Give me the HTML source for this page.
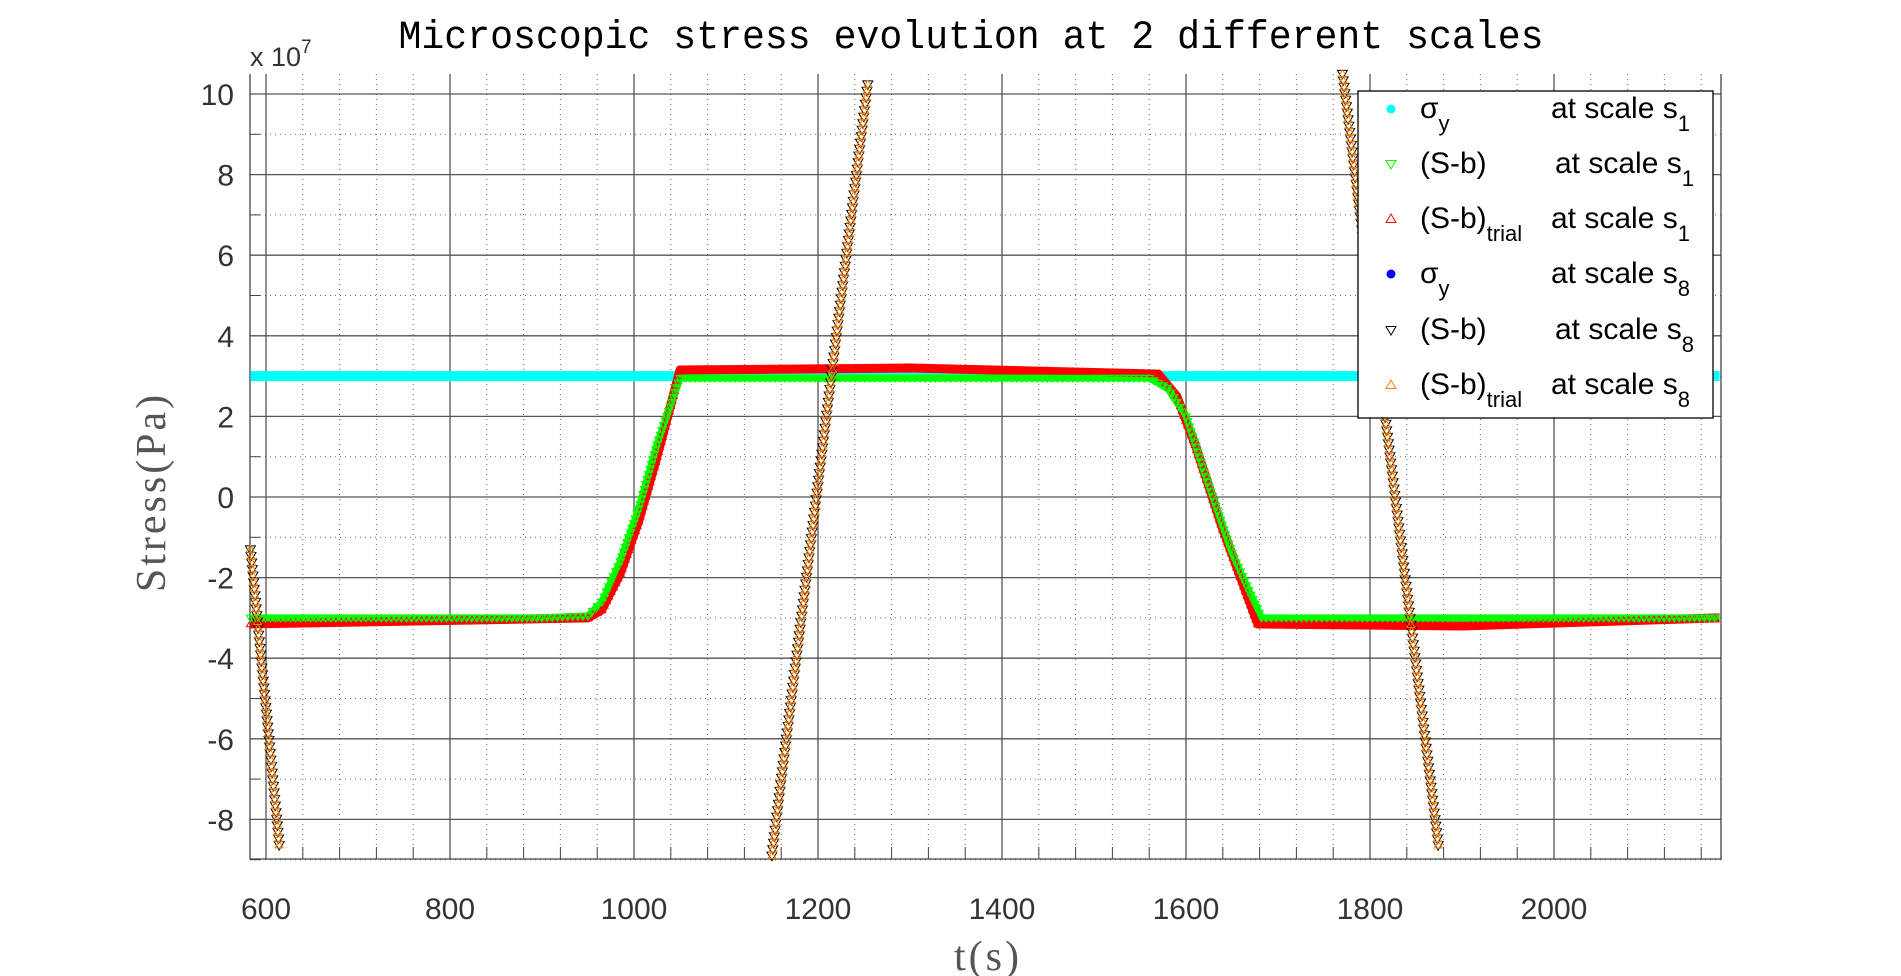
<!DOCTYPE html>
<html><head><meta charset="utf-8"><style>
html,body{margin:0;padding:0;background:#fff;}
svg{display:block;}
</style></head><body>
<svg id="chart" width="1901" height="976" viewBox="0 0 1901 976" xmlns="http://www.w3.org/2000/svg">
<text x="971" y="48" text-anchor="middle" font-family="Liberation Mono, monospace" font-size="40" textLength="1145" lengthAdjust="spacingAndGlyphs">Microscopic stress evolution at 2 different scales</text>
<g id="grid"></g>
<g id="axes"></g>
<g id="series"></g>
<text x="250" y="66" font-family="Liberation Sans, sans-serif" font-size="27" fill="#333">x 10<tspan dy="-13" font-size="19">7</tspan></text>
<text transform="translate(165,492) rotate(-90)" text-anchor="middle" font-family="Liberation Serif, serif" font-size="42" fill="#555" letter-spacing="3">Stress(Pa)</text>
<text x="988" y="970" text-anchor="middle" font-family="Liberation Serif, serif" font-size="42" fill="#555" letter-spacing="3">t(s)</text>
<g id="legend"></g>
</svg>
<script>
const xTicks=[600,800,1000,1200,1400,1600,1800,2000];
const yTicks=[-8,-6,-4,-2,0,2,4,6,8,10];
const sigmaT=[583,2180];
const sigmaV=[3,3];
const sb1T=[583,900,950,965,985,1005,1025,1050,1300,1560,1580,1600,1620,1650,1682,2180];
const sb1V=[-3,-3,-2.95,-2.6,-1.6,-0.3,1.3,2.95,2.95,2.95,2.7,2.0,0.6,-1.4,-3,-3];
const tr1T=[583,950,965,985,1005,1025,1050,1300,1570,1590,1610,1640,1678,1900,2180];
const tr1V=[-3.15,-3.0,-2.8,-1.9,-0.6,1.0,3.15,3.2,3.05,2.5,1.3,-0.8,-3.15,-3.2,-3.0];
const s8Seg1T=[583,615], s8Seg1V=[-1.3,-8.8];
const s8Seg2T=[1150,1255], s8Seg2V=[-8.9,10.4];
const s8Seg3T=[1770,1875], s8Seg3V=[10.5,-8.8];

const L=250,R=1721,T=74,B=859;
const x=t=>266+(t-600)*0.92;
const y=v=>497-v*40.3;
const NS='http://www.w3.org/2000/svg';
function mk(tag,attrs,parent){const e=document.createElementNS(NS,tag);for(const k in attrs)e.setAttribute(k,attrs[k]);parent.appendChild(e);return e;}
const grid=document.getElementById('grid'),axes=document.getElementById('axes'),ser=document.getElementById('series'),leg=document.getElementById('legend');
for(let t=600;t<=2180;t+=40){ if(t%200===0)continue; const l=mk('line',{x1:x(t),x2:x(t),y1:T,y2:B,stroke:'#666','stroke-width':1,'stroke-dasharray':'1,4'},grid);


const tk=mk('line',{x1:x(t),x2:x(t),y1:B,y2:B-12,stroke:'#444','stroke-width':1},axes);

}
for(let v=-9;v<=10;v+=2){ const l=mk('line',{x1:L,x2:R,y1:y(v),y2:y(v),stroke:'#666','stroke-width':1,'stroke-dasharray':'1,4'},grid);


const tk=mk('line',{x1:L,x2:L+10,y1:y(v),y2:y(v),stroke:'#444','stroke-width':1},axes);

}
xTicks.forEach(t=>{const l=mk('line',{x1:x(t),x2:x(t),y1:T,y2:B,stroke:'#555','stroke-width':1.3},grid);


const tx=mk('text',{x:x(t),y:B+60,'text-anchor':'middle','font-family':'Liberation Sans, sans-serif','font-size':30,fill:'#333'},axes);tx.textContent=t;

});
yTicks.forEach(v=>{const l=mk('line',{x1:L,x2:R,y1:y(v),y2:y(v),stroke:'#555','stroke-width':1.3},grid);


const tx=mk('text',{x:L-16,y:y(v)+11,'text-anchor':'end','font-family':'Liberation Sans, sans-serif','font-size':30,fill:'#333'},axes);tx.textContent=v;

});
const ax=mk('path',{d:`M${L},${T}V${B}H${R}V${T}`,fill:'none',stroke:'#444','stroke-width':1.3},axes);



function tri(px,py,s,down,color,parent,name){const d=down?`M${px-s},${py-s*0.7}L${px+s},${py-s*0.7}L${px},${py+s}Z`:`M${px-s},${py+s*0.7}L${px+s},${py+s*0.7}L${px},${py-s}Z`;
const p=mk('path',{d:d,fill:'none',stroke:color,'stroke-width':1},parent);

}
function band(T_,V_,color,w,name){const pts=T_.map((t,i)=>x(t)+','+y(V_[i])).join(' ');
const p=mk('polyline',{points:pts,fill:'none',stroke:color,'stroke-width':w,'stroke-linejoin':'round'},ser);

}
band(sigmaT,sigmaV,'#00ffff',10,'sigma-y-s1');
band(tr1T,tr1V,'#ff0000',9,'sb-trial-s1');
band(sb1T,sb1V,'#00ff00',7,'sb-s1');
function markers(T_,V_,step,down,color,name,s){for(let i=0;i<T_.length-1;i++){const x0=x(T_[i]),y0=y(V_[i]),x1=x(T_[i+1]),y1=y(V_[i+1]);const len=Math.hypot(x1-x0,y1-y0);const n=Math.max(1,Math.floor(len/step));for(let k=0;k<n;k++){const f=k/n;tri(x0+(x1-x0)*f,y0+(y1-y0)*f,s,down,color,ser,name);}}}
markers(tr1T,tr1V,5,false,'#ff0000','sb-trial-s1-marker',4);
markers(sb1T,sb1V,5,true,'#00ff00','sb-s1-marker',4);
[[s8Seg1T,s8Seg1V],[s8Seg2T,s8Seg2V],[s8Seg3T,s8Seg3V]].forEach(([tt,vv])=>{
 markers(tt,vv,6.5,true,'#000','sb-s8-marker',5);
 markers(tt,vv,6.5,false,'#ff8000','sb-trial-s8-marker',4);
});
const lb=mk('rect',{x:1358,y:91,width:355,height:327,fill:'#fff',stroke:'#000','stroke-width':1.3},leg);


const rows=[
 {m:'dot',c:'#00ffff',lab:'σ',sub:'y',sc:'1',ax:1551},
 {m:'down',c:'#00ff00',lab:'(S-b)',sub:'',sc:'1',ax:1555},
 {m:'up',c:'#ff0000',lab:'(S-b)',sub:'trial',sc:'1',ax:1551},
 {m:'dot',c:'#0000ff',lab:'σ',sub:'y',sc:'8',ax:1551},
 {m:'down',c:'#000000',lab:'(S-b)',sub:'',sc:'8',ax:1555},
 {m:'up',c:'#ff8000',lab:'(S-b)',sub:'trial',sc:'8',ax:1551}];
const rowY=[118,173,228,283,339,394];
rows.forEach((r,i)=>{const yy=rowY[i];
 if(r.m==='dot'){const c=mk('circle',{cx:1391,cy:yy-9,r:4.5,fill:r.c},leg);}
 else tri(1391,yy-9,5,r.m==='down',r.c,leg,'legend-marker');
 const t=mk('text',{x:1420,y:yy,'font-family':'Liberation Sans, sans-serif','font-size':30,fill:'#000'},leg);
 t.innerHTML=r.lab+(r.sub?`<tspan dy="13" font-size="22">${r.sub}</tspan>`:'');
 
 
 const t2=mk('text',{x:r.ax,y:yy,'font-family':'Liberation Sans, sans-serif','font-size':30,fill:'#000'},leg);
 t2.innerHTML=`at scale s<tspan dy="13" font-size="22">${r.sc}</tspan>`;
 
 
});
</script>
</body></html>
